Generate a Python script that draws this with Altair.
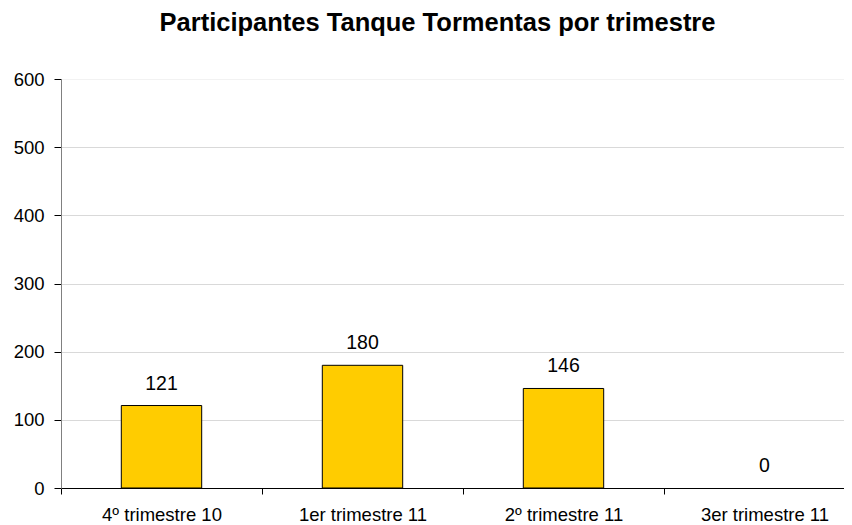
import altair as alt
import pandas as pd

categories = ["4º trimestre 10", "1er trimestre 11", "2º trimestre 11", "3er trimestre 11"]
values = [121, 180, 146, 0]
y_ticks = [0, 100, 200, 300, 400, 500, 600]
title_text = "Participantes Tanque Tormentas por trimestre"

df = pd.DataFrame({"cat": categories, "val": values})

FONT = "Liberation Sans"

x = alt.X(
    "cat:N",
    sort=categories,
    scale=alt.Scale(paddingInner=0, paddingOuter=0, range=[0, 804]),
    axis=alt.Axis(
        title=None, labelAngle=0, tickBand="extent", domainColor="#000000",
        tickColor="#000000", tickSize=6, labelFontSize=18.5, labelPadding=11,
        labelColor="#000000", labelFont=FONT, grid=False, labelFontWeight="normal",
    ),
)
y = alt.Y(
    "val:Q",
    scale=alt.Scale(domain=[0, 600], nice=False),
    axis=alt.Axis(
        values=y_ticks, title=None, domainColor="#808080", tickColor="#000000",
        tickSize=7, labelFontSize=18.5, labelPadding=10, labelColor="#000000",
        labelFont=FONT,
        gridColor={"condition": {"test": "datum.value === 600", "value": "#f2f2f2"},
                   "value": "#d9d9d9"},
        gridWidth=1.2,
    ),
)

bars = alt.Chart(df).mark_bar(
    color="#FFCC00", stroke="#000000", strokeWidth=1, width=alt.RelativeBandSize(0.4)
).encode(
    x=x, y=y,
    opacity=alt.condition("datum.val > 0", alt.value(1), alt.value(0)),
)

labels = alt.Chart(df).mark_text(
    dy=-16, baseline="alphabetic", fontSize=19.5, font=FONT, color="#000000"
).encode(x=x, y=y, text="val:Q")

chart = alt.layer(bars, labels).properties(
    width=783,
    height=409,
    padding={"left": 53, "top": 71, "right": 0, "bottom": 38},
    autosize="none",
    title=alt.TitleParams(
        title_text, fontSize=25.5, fontWeight="bold", font=FONT, color="#000000",
        anchor="middle", dx=-15, offset=34,
    ),
).configure_view(stroke=None).configure(background="white")

chart.save("out.html", embed_options={"renderer": "svg", "actions": False})
